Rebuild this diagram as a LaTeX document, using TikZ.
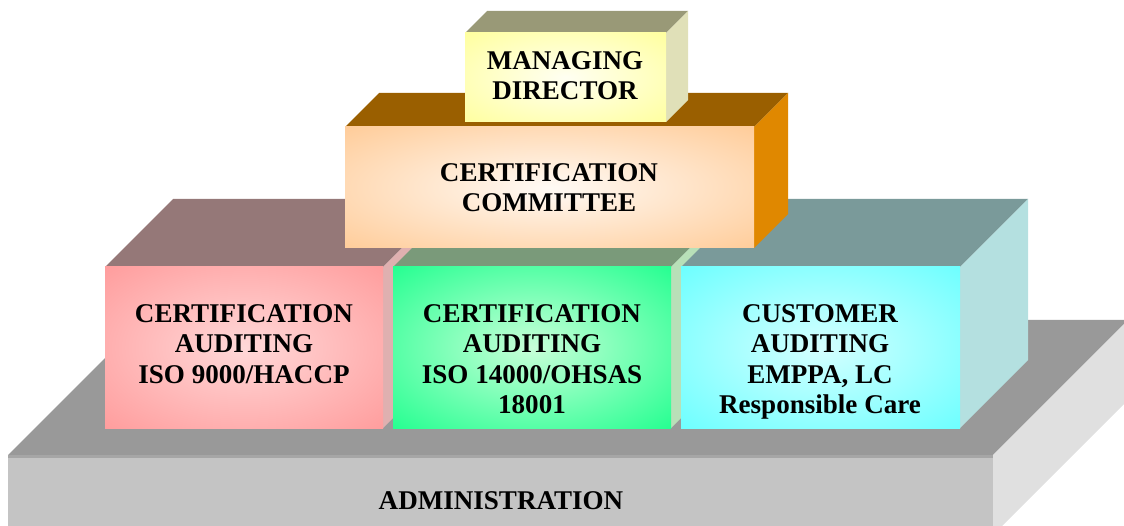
\documentclass[tikz,border=0pt]{standalone}
\usepackage{fontspec}
\setmainfont{Liberation Serif}
\usepackage{xcolor}
\usepackage{tikz}
\definecolor{basefront}{HTML}{C4C4C4}
\definecolor{basetop}{HTML}{999999}
\definecolor{baseside}{HTML}{E0E0E0}
\definecolor{redout}{HTML}{FF9999}
\definecolor{redin}{HTML}{FFD8D8}
\definecolor{redtop}{HTML}{957878}
\definecolor{redside}{HTML}{DFB0B0}
\definecolor{greenout}{HTML}{1AFF8C}
\definecolor{greenin}{HTML}{C8FFD8}
\definecolor{greentop}{HTML}{7A9A7A}
\definecolor{greenside}{HTML}{B8E0B8}
\definecolor{cyanout}{HTML}{66FFFF}
\definecolor{cyanin}{HTML}{D4FFFF}
\definecolor{cyantop}{HTML}{7A9A9A}
\definecolor{cyanside}{HTML}{B4E0E0}
\definecolor{orangeout}{HTML}{FFC993}
\definecolor{orangein}{HTML}{FFFAF5}
\definecolor{orangetop}{HTML}{9A5F00}
\definecolor{orangeside}{HTML}{E08800}
\definecolor{yellowout}{HTML}{FFFF99}
\definecolor{yellowin}{HTML}{FFFFF2}
\definecolor{yellowtop}{HTML}{999977}
\definecolor{yellowside}{HTML}{E0E0B8}
\colorlet{glowin}{white}
\colorlet{glowout}{white}
\pgfdeclareradialshading[glowin,glowout]{glow}{\pgfpoint{0bp}{0bp}}{color(0bp)=(glowin); color(38bp)=(glowout); color(50bp)=(glowout)}
\tikzset{
  frontglow/.style 2 args={/utils/exec={\colorlet{glowin}{#1}\colorlet{glowout}{#2}}, shading=glow},
  lab/.style={text=black, align=center, inner sep=0pt, font=\bfseries\fontsize{15.4}{17.2}\selectfont},
}

\begin{document}
\begin{tikzpicture}[x=0.02cm, y=-0.02cm]
\useasboundingbox (0,0) rectangle (1124,526);
\clip (0,0) rectangle (1124,526);

% administration slab
\fill[basetop] (8,455) -- (143,320) -- (1128,320) -- (993,455) -- cycle;
\fill[baseside] (993,455) -- (1128,320) -- (1128,400) -- (993,535) -- cycle;
\fill[basefront] (8,455) rectangle (993,540);
\fill[basetop!70!basefront] (8,455) rectangle (993,458);
\node[lab] (admin) at (501,501) {ADMINISTRATION};

% auditing blocks
\fill[redtop] (105,267) -- (173,199) -- (451,199) -- (383,267) -- cycle;
\fill[redside] (383,267) -- (451,199) -- (451,360) -- (383,428) -- cycle;
\fill[frontglow={redin}{redout}] (105,267) rectangle (383,428);
\node[lab, anchor=north] (iso9000) at (244,304.5) {CERTIFICATION\\AUDITING\\ISO 9000/HACCP};

\fill[greentop] (393,267) -- (461,199) -- (739,199) -- (671,267) -- cycle;
\fill[greenside] (671,267) -- (739,199) -- (739,360) -- (671,428) -- cycle;
\fill[frontglow={greenin}{greenout}] (393,267) rectangle (671,428);
\node[lab, anchor=north] (iso14000) at (532,304.5) {CERTIFICATION\\AUDITING\\ISO 14000/OHSAS\\18001};

\fill[cyantop] (681,267) -- (749,199) -- (1028,199) -- (960,267) -- cycle;
\fill[cyanside] (960,267) -- (1028,199) -- (1028,360) -- (960,428) -- cycle;
\fill[frontglow={cyanin}{cyanout}] (681,267) rectangle (960,428);
\node[lab, anchor=north] (customer) at (820,304.5) {CUSTOMER\\AUDITING\\EMPPA, LC\\Responsible Care};

% committee
\fill[orangetop] (345,127) -- (379,93) -- (788,93) -- (754,127) -- cycle;
\fill[orangeside] (754,127) -- (788,93) -- (788,214) -- (754,248) -- cycle;
\fill[frontglow={orangein}{orangeout}] (345,127) rectangle (754,248);
\node[lab] (committee) at (549,188) {CERTIFICATION\\COMMITTEE};

% managing director
\fill[yellowtop] (465,33) -- (487,11) -- (688,11) -- (666,33) -- cycle;
\fill[yellowside] (666,33) -- (688,11) -- (688,100) -- (666,122) -- cycle;
\fill[frontglow={yellowin}{yellowout}] (465,33) rectangle (666,122);
\node[lab] (director) at (565,76) {MANAGING\\DIRECTOR};
\end{tikzpicture}
\end{document}
